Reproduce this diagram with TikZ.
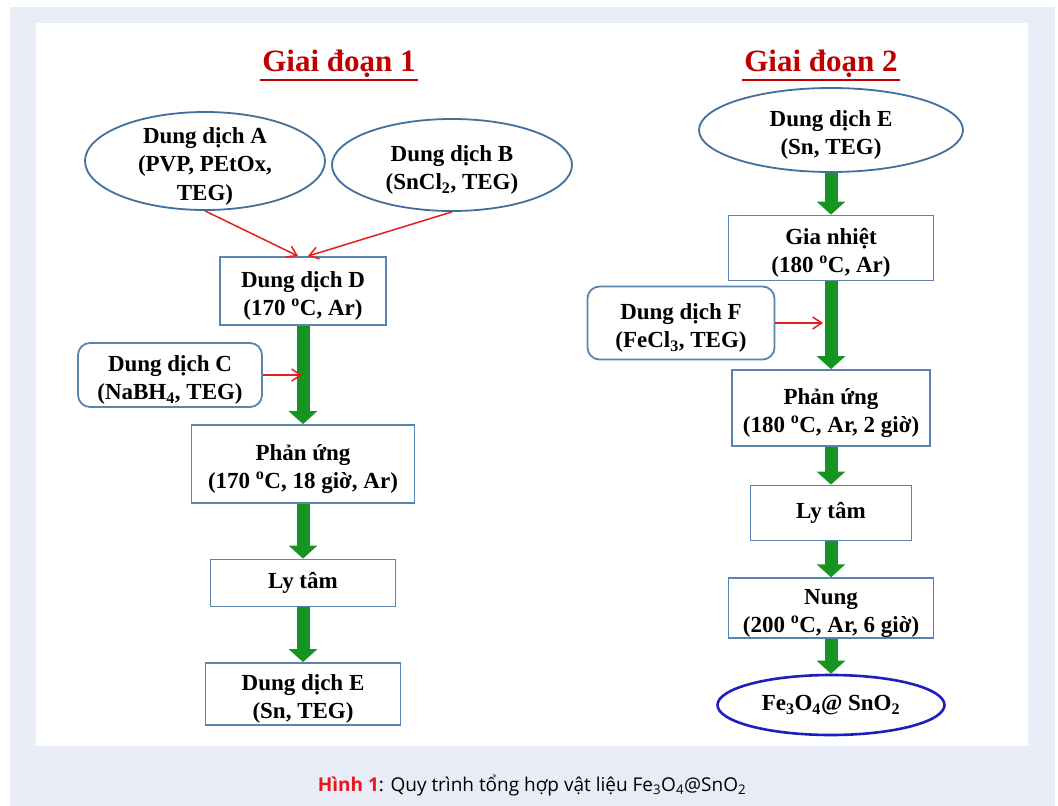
\documentclass[tikz,border=0pt]{standalone}
\usepackage{fontspec}
\setmainfont{Liberation Serif}
\newfontfamily\capfont{Open Sans}
\usetikzlibrary{shapes.geometric,arrows.meta}

\definecolor{pagebg}{RGB}{232,236,246}
\definecolor{boxblue}{RGB}{88,132,176}
\definecolor{ellblue}{RGB}{66,112,158}
\definecolor{endblue}{RGB}{30,30,190}
\definecolor{flowgreen}{RGB}{22,148,34}
\definecolor{feedred}{RGB}{232,30,30}
\definecolor{titlered}{RGB}{192,0,0}
\definecolor{capred}{RGB}{236,20,28}

% first line a little lower, as in the slide
\newcommand{\tallrule}{\rule{0pt}{26pt}}

\begin{document}
\begin{tikzpicture}[x=1pt,y=-1pt,
  txt/.style = {align=center, font=\fontsize{23}{28.5}\selectfont\bfseries, inner sep=0pt},
  box/.style = {txt, draw=boxblue, line width=1.8pt, fill=white},
  rbox/.style = {box, rounded corners=12pt},
  soln/.style = {txt, ellipse, draw=ellblue, line width=1.8pt, fill=white},
  prod/.style = {soln, draw=endblue, line width=2.6pt},
  title/.style = {font=\fontsize{31}{36}\selectfont\bfseries, text=titlered, inner sep=2pt},
  uline/.style = {draw=titlered, line width=1.5pt},
  flow/.style = {draw=flowgreen, line width=13pt, -{Triangle[width=28pt,length=13pt]}},
  feed/.style = {draw=feedred, line width=1.5pt, -{Straight Barb[length=9pt,width=12pt]}}]
\useasboundingbox (0,0) rectangle (1058,806);
\fill[white] (0,0) rectangle (1058,806);
\fill[pagebg] (10,7) rectangle (1055,806);
\fill[white] (36,23) rectangle (1028,746);

% Giai doan 1
\node[title] (T1) at (339,64) {Giai đoạn 1};
\draw[uline] (T1.south west) -- (T1.south east);
\node[soln, minimum width=240pt, minimum height=98pt, inner ysep=-12pt] (A) at (205,161) {\tallrule Dung dịch A\\(PVP, PEtOx,\\TEG)};
\node[soln, minimum width=240pt, minimum height=92pt] (B) at (452,165) {\tallrule Dung dịch B\\(SnCl\textsubscript{2}, TEG)};
\node[box, minimum width=166pt, minimum height=68pt] (D) at (303,291) {\tallrule Dung dịch D\\(170 \textsuperscript{o}C, Ar)};
\node[rbox, minimum width=184pt, minimum height=64pt] (C) at (170,375) {\tallrule Dung dịch C\\(NaBH\textsubscript{4}, TEG)};
\node[box, minimum width=223pt, minimum height=78pt] (P1) at (303,464) {\tallrule Phản ứng\\(170 \textsuperscript{o}C, 18 giờ, Ar)};
\node[box, minimum width=185pt, minimum height=47pt] (L1) at (303,583) {Ly tâm};
\node[box, minimum width=195pt, minimum height=62pt] (E1) at (303,694) {\tallrule Dung dịch E\\(Sn, TEG)};
\coordinate (c1) at (302,375);

\draw[flow] (D) -- (P1);
\draw[flow] (P1) -- (L1);
\draw[flow] (L1) -- (E1);
\draw[feed] (A.south) -- (D.98);
\draw[feed] (B.south) -- (D.82);
\draw[feed] (C.east) -- (c1);

% Giai doan 2
\node[title] (T2) at (821,64) {Giai đoạn 2};
\draw[uline] (T2.south west) -- (T2.south east);
\node[soln, minimum width=264pt, minimum height=82pt] (E2) at (831,130) {\tallrule Dung dịch E\\(Sn, TEG)};
\node[box, minimum width=205pt, minimum height=65pt] (G) at (831,248) {\tallrule Gia nhiệt\\(180 \textsuperscript{o}C, Ar)};
\node[rbox, minimum width=187pt, minimum height=73pt] (F) at (681,323) {\tallrule Dung dịch F\\(FeCl\textsubscript{3}, TEG)};
\node[box, minimum width=198pt, minimum height=76pt] (P2) at (831,408) {\tallrule Phản ứng\\(180 \textsuperscript{o}C, Ar, 2 giờ)};
\node[box, minimum width=161pt, minimum height=55pt] (L2) at (831,513) {Ly tâm};
\node[box, minimum width=205pt, minimum height=59pt] (N) at (831,608) {\tallrule Nung\\(200 \textsuperscript{o}C, Ar, 6 giờ)};
\node[prod, minimum width=227pt, minimum height=60pt] (Fe) at (831,705) {Fe\textsubscript{3}O\textsubscript{4}@ SnO\textsubscript{2}};
\coordinate (f1) at (823,323);

\draw[flow] (E2) -- (G);
\draw[flow] (G) -- (P2);
\draw[flow] (P2) -- (L2);
\draw[flow] (L2) -- (N);
\draw[flow] (N) -- (Fe);
\draw[feed] (F.east) -- (f1);

% chu thich
\node[font=\capfont\fontsize{19}{22}\selectfont] (cap) at (532,785)
  {\textcolor{capred}{\bfseries Hình 1}: Quy trình tổng hợp vật liệu Fe\textsubscript{3}O\textsubscript{4}@SnO\textsubscript{2}};
\end{tikzpicture}
\end{document}
